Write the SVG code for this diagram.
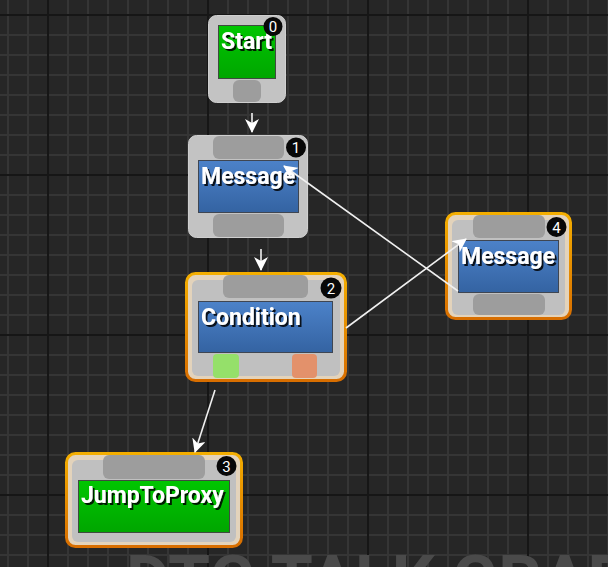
<svg xmlns="http://www.w3.org/2000/svg" width="608" height="567" viewBox="0 0 608 567">
<defs>
<style>
.body{fill:#c3c3c3;stroke:#cfcfcf;stroke-width:1}
.pin{fill:#9d9d9d}
.sel{stroke:url(#orange);stroke-width:3;fill:#e3d3bb}
.inner{fill:#c0c0c0}
.blue{fill:url(#blueg);stroke:#3f4652;stroke-width:1}
.green{fill:url(#greeng);stroke:#3f4a3f;stroke-width:1}
.title{font-family:Roboto,"Liberation Sans",sans-serif;font-weight:bold;font-size:23px;fill:#ffffff;filter:url(#ts)}
.badge{fill:#080808}
.num{font-family:Roboto,"Liberation Sans",sans-serif;font-size:15px;fill:#ffffff;text-anchor:middle}
.edge{stroke:#f0f0f0;stroke-width:1.6;fill:none;marker-end:url(#arr)}
</style>
<linearGradient id="orange" x1="0" y1="0" x2="0" y2="1">
<stop offset="0" stop-color="#f4ae00"/>
<stop offset="1" stop-color="#d86e00"/>
</linearGradient>
<linearGradient id="blueg" x1="0" y1="0" x2="0" y2="1">
<stop offset="0" stop-color="#4c82c9"/>
<stop offset="1" stop-color="#3463a2"/>
</linearGradient>
<linearGradient id="greeng" x1="0" y1="0" x2="0" y2="1">
<stop offset="0" stop-color="#00c600"/>
<stop offset="1" stop-color="#00a600"/>
</linearGradient>
<filter id="ts" x="-10%" y="-20%" width="130%" height="150%">
<feDropShadow dx="2" dy="2" stdDeviation="0.4" flood-color="#000000" flood-opacity="0.85"/>
</filter>
<marker id="arr" viewBox="0 0 14 14" refX="13" refY="7" markerWidth="14" markerHeight="14" markerUnits="userSpaceOnUse" orient="auto">
<path d="M0,0 L14,7 L0,14 L4,7 Z" fill="#ffffff"/>
</marker>
<pattern id="minor" patternUnits="userSpaceOnUse" x="7" y="14" width="20" height="20">
<rect width="20" height="20" fill="#262626"/>
<rect x="0" y="0" width="20" height="2" fill="#353535"/>
<rect x="0" y="0" width="2" height="20" fill="#353535"/>
</pattern>
<pattern id="major" patternUnits="userSpaceOnUse" x="47" y="14" width="160" height="160">
<rect x="0" y="0" width="160" height="2" fill="#161616"/>
<rect x="0" y="0" width="2" height="160" fill="#161616"/>
</pattern>
</defs>

<g id="background">
<rect width="608" height="567" fill="url(#minor)"/>
<rect width="608" height="567" fill="url(#major)"/>
<text x="126" y="604" font-family="Roboto,'Liberation Sans',sans-serif" font-weight="bold" font-size="68" fill="#4a4a4a">DTG TALK GRAPH</text>
</g>

<g id="node0">
<rect class="body" x="208.5" y="15.5" width="77" height="87" rx="8"/>
<rect class="green" x="218.5" y="25.5" width="57" height="53"/>
<rect class="pin" x="233" y="80" width="28" height="22" rx="6"/>
<text class="title" x="221" y="49">Start</text>
<circle class="badge" cx="273" cy="26.5" r="9.5"/>
<text class="num" x="273" y="32">0</text>
</g>

<g id="node1">
<rect class="body" x="188.5" y="135.5" width="119" height="102" rx="8"/>
<rect class="pin" x="213" y="136" width="71" height="23" rx="6"/>
<rect class="blue" x="198.5" y="160.5" width="100" height="52"/>
<rect class="pin" x="213" y="214" width="71" height="23" rx="6"/>
<text class="title" x="201" y="184">Message</text>
<circle class="badge" cx="296" cy="147.5" r="10"/>
<text class="num" x="296" y="153">1</text>
</g>

<g id="node2">
<rect class="sel" x="186.5" y="273.5" width="159" height="107" rx="9"/>
<rect class="inner" x="192" y="280" width="148" height="96" rx="6"/>
<rect class="pin" x="223" y="275" width="85" height="23" rx="6"/>
<rect class="blue" x="198.5" y="301.5" width="134" height="51"/>
<rect x="213" y="354" width="26" height="24" rx="4" fill="#95e06a"/>
<rect x="292" y="354" width="25" height="24" rx="4" fill="#e3916b"/>
<text class="title" x="201" y="325">Condition</text>
<circle class="badge" cx="331" cy="288" r="10.5"/>
<text class="num" x="331" y="293.5">2</text>
</g>

<g id="node4">
<rect class="sel" x="446.5" y="213.5" width="124" height="105" rx="9"/>
<rect class="inner" x="452" y="220" width="113" height="95" rx="6"/>
<rect class="pin" x="473" y="215" width="72" height="23" rx="6"/>
<rect class="blue" x="458.5" y="240.5" width="100" height="52"/>
<rect class="pin" x="473" y="294" width="72" height="21" rx="6"/>
<text class="title" x="461" y="264">Message</text>
<circle class="badge" cx="556.5" cy="227" r="10"/>
<text class="num" x="556.5" y="232.5">4</text>
</g>

<g id="node3">
<rect class="sel" x="66.5" y="453.5" width="175" height="93" rx="9"/>
<rect class="inner" x="72" y="460" width="164" height="82" rx="6"/>
<rect class="pin" x="103" y="455" width="102" height="24" rx="6"/>
<rect class="green" x="78.5" y="480.5" width="151" height="52"/>
<text class="title" x="81" y="503">JumpToProxy</text>
<circle class="badge" cx="226.5" cy="466" r="10"/>
<text class="num" x="226.5" y="471.5">3</text>
</g>

<g id="connectors">
<line class="edge" x1="252" y1="113" x2="252" y2="132"/>
<line class="edge" x1="261" y1="249" x2="261" y2="270"/>
<line class="edge" x1="215" y1="390" x2="195" y2="452"/>
<line class="edge" x1="346" y1="328" x2="466" y2="239"/>
<line class="edge" x1="458" y1="291" x2="284" y2="166"/>
</g>
</svg>
